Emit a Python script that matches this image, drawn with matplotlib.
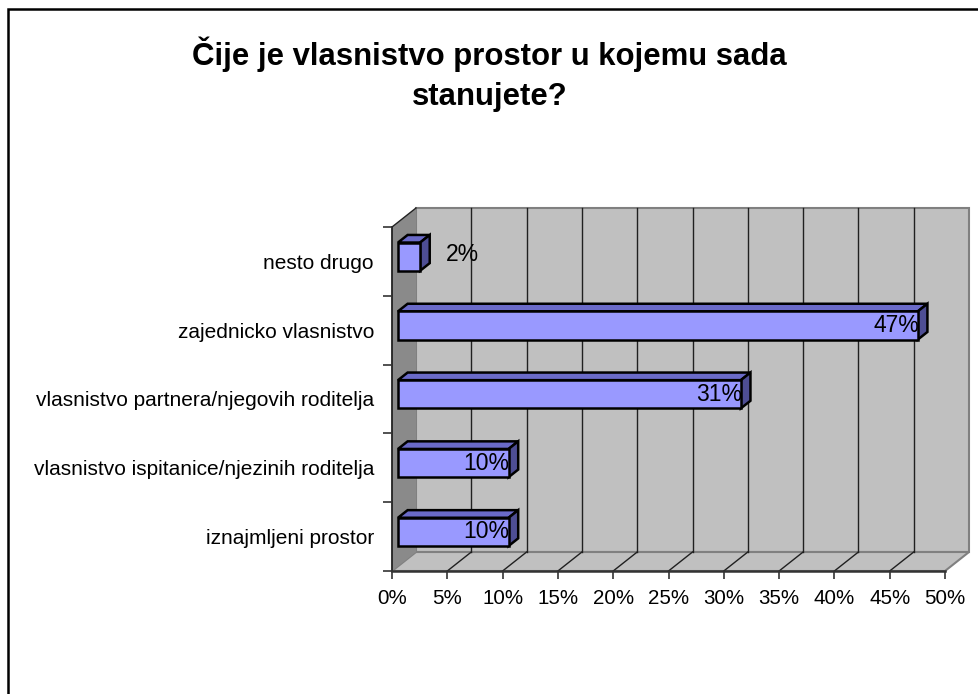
import matplotlib
matplotlib.use('Agg')
import matplotlib.pyplot as plt
from matplotlib.patches import Polygon, Rectangle

plt.rcParams['font.family'] = ['Liberation Sans', 'DejaVu Sans']

# data
categories = ['iznajmljeni prostor',
              'vlasnistvo ispitanice/njezinih roditelja',
              'vlasnistvo partnera/njegovih roditelja',
              'zajednicko vlasnistvo',
              'nesto drugo']
values = [10, 10, 31, 47, 2]
value_labels = ['10%', '10%', '31%', '47%', '2%']
xticks = [0, 5, 10, 15, 20, 25, 30, 35, 40, 45, 50]
xtick_labels = ['0%', '5%', '10%', '15%', '20%', '25%', '30%', '35%', '40%', '45%', '50%']
title = 'Čije je vlasnistvo prostor u kojemu sada\nstanujete?'

# 3d look (depth in data units)
DX = 2.17
DY = 0.276
FRONT = 0.25   # where the bar front sits in the depth
BDEPTH = 0.40  # bar depth as fraction of full depth
BAR_H = 0.41

wall_c = '#c0c0c0'
side_wall_c = '#8a8a8a'
edge_c = '#808080'
face_c = '#9999ff'
top_c = '#6a6ac8'
side_c = '#4e4e94'

fig = plt.figure(figsize=(9.79, 6.94), dpi=100)
ax = fig.add_axes([392/979, 123/694, 553/979, 344/694])
ax.set_facecolor('none')
xmax = xticks[-1]
ymin, ymax = -0.5, len(categories) - 0.5
ax.set_xlim(0, xmax)
ax.set_ylim(ymin, ymax)

# back wall
ax.add_patch(Polygon([(DX, ymin + DY), (xmax + DX, ymin + DY), (xmax + DX, ymax + DY), (DX, ymax + DY)],
                     closed=True, fc=wall_c, ec=edge_c, lw=1.5, clip_on=False, zorder=0.5))
# floor
ax.add_patch(Polygon([(0, ymin), (xmax, ymin), (xmax + DX, ymin + DY), (DX, ymin + DY)],
                     closed=True, fc=wall_c, ec=edge_c, lw=1.5, clip_on=False, zorder=0.6))
# gridlines on wall and floor
for t in xticks[1:-1]:
    ax.plot([t + DX, t + DX], [ymin + DY, ymax + DY], color='#202020', lw=1, clip_on=False, zorder=0.7)
    ax.plot([t, t + DX], [ymin, ymin + DY], color='#202020', lw=1, clip_on=False, zorder=0.7)
# left wall
ax.add_patch(Polygon([(0, ymin), (0, ymax), (DX, ymax + DY), (DX, ymin + DY)],
                     closed=True, fc=side_wall_c, ec='none', clip_on=False, zorder=0.8))
ax.plot([0, DX], [ymax, ymax + DY], color='#222222', lw=1, clip_on=False, zorder=0.9)

# bars
fx, fy = FRONT * DX, FRONT * DY
bx, by = BDEPTH * DX, BDEPTH * DY
for i, (v, lab) in enumerate(zip(values, value_labels)):
    x0, x1 = fx, v + fx
    yb, yt = i - BAR_H / 2 + fy, i + BAR_H / 2 + fy
    ax.add_patch(Polygon([(x0, yt), (x1, yt), (x1 + bx, yt + by), (x0 + bx, yt + by)],
                         closed=True, fc=top_c, ec='black', lw=1.8, clip_on=False, zorder=3))
    ax.add_patch(Polygon([(x1, yb), (x1, yt), (x1 + bx, yt + by), (x1 + bx, yb + by)],
                         closed=True, fc=side_c, ec='black', lw=1.8, clip_on=False, zorder=3))
    ax.add_patch(Rectangle((x0, yb), v, yt - yb, fc=face_c, ec='black', lw=1.8,
                           clip_on=False, zorder=3.1))
    if v < 5:
        ax.text(x1 + bx + 1.5, i + fy + 0.03, lab, ha='left', va='center', fontsize=16.5, zorder=4)
    else:
        ax.text(x1 + 0.1, i + fy, lab, ha='right', va='center', fontsize=16.5, zorder=4)

# axes
for s in ['top', 'right']:
    ax.spines[s].set_visible(False)
ax.spines['left'].set_color('#222222')
ax.spines['left'].set_linewidth(1.3)
ax.spines['bottom'].set_color('#333333')
ax.spines['bottom'].set_linewidth(1.8)
ax.spines['left'].set_zorder(1)
ax.spines['bottom'].set_zorder(1)

ax.set_xticks(xticks)
ax.set_xticklabels(xtick_labels, fontsize=14.8)
ax.tick_params(axis='x', length=6, width=1.2, color='#333333', pad=7)

ax.set_yticks(range(len(categories)))
ax.set_yticklabels(categories, fontsize=15)
ax.set_yticks([k - 0.5 for k in range(len(categories) + 1)], minor=True)
ax.tick_params(axis='y', which='major', length=0, pad=13)
ax.tick_params(axis='y', which='minor', length=6.5, width=1.2, color='#333333')

fig.text(0.5, 0.893, title, ha='center', va='center', fontsize=22.4, fontweight='bold',
         linespacing=1.45)

# chart border
fig.patches.append(Rectangle((8/979, -0.05), 1.1, 0.05 + 685/694, transform=fig.transFigure,
                             fill=False, ec='black', lw=1.8, clip_on=False))

fig.savefig('out.png', dpi=100)
